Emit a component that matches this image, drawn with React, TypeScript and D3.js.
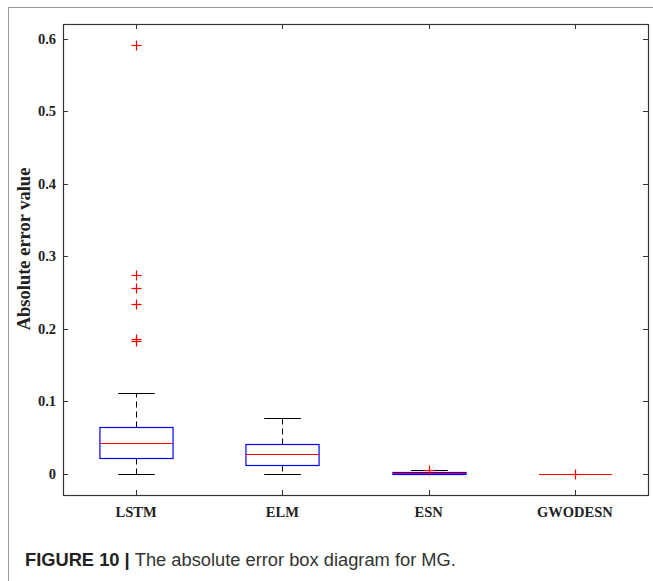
import React from 'react';
import * as d3 from 'd3';

const categories = ['LSTM', 'ELM', 'ESN', 'GWODESN'];
const q1 = [0.0225, 0.0129, 0.0006, 0];
const medians = [0.0423, 0.0271, 0.0017, 0];
const q3 = [0.0643, 0.0418, 0.0029, 0];
const whiskerLow = [0, 0, 0, 0];
const whiskerHigh = [0.1116, 0.0767, 0.0055, 0];
const outliers: number[][] = [
  [0.5905, 0.2737, 0.2557, 0.2342, 0.1864, 0.1836],
  [],
  [0.0058],
  [0],
];
const yTicks = [0, 0.1, 0.2, 0.3, 0.4, 0.5, 0.6];

const W = 653;
const H = 581;
const L = 63, R = 648, T = 24, B = 495;

export default function App() {
  const x = d3.scaleLinear().domain([0.5, 4.5]).range([L, R]);
  const y = d3.scaleLinear().domain([-0.029, 0.62]).range([B, T]);
  const py = (v: number) => Math.round(y(v)) + 0.5;
  const bw = x(1.25) - x(1);
  const cw = x(1.125) - x(1);
  const axisColor = '#333';
  const serif = '"Liberation Serif", "Times New Roman", serif';
  const sans = '"Liberation Sans", Arial, sans-serif';
  const fmt = d3.format('.1f');

  return (
    <svg width={W} height={H} style={{ position: 'absolute', left: 0, top: 0, background: '#fff' }}>
      <rect x={0} y={0} width={W} height={H} fill="#fff" />
      {/* page frame */}
      <line x1={8.5} x2={8.5} y1={7} y2={H} stroke="#999" strokeWidth={1} />
      <line x1={8} x2={W} y1={7.5} y2={7.5} stroke="#999" strokeWidth={1} />

      {/* boxes */}
      {categories.map((c, i) => {
        const cx = Math.round(x(i + 1)) + 0.5;
        const degenerate = q3[i] === q1[i];
        return (
          <g key={c}>
            {!degenerate && (
              <g>
                <line x1={cx} x2={cx} y1={py(q3[i])} y2={py(whiskerHigh[i])} stroke="#000" strokeWidth={1} strokeDasharray="6,4" />
                <line x1={cx} x2={cx} y1={py(q1[i])} y2={py(whiskerLow[i])} stroke="#000" strokeWidth={1} strokeDasharray="6,4" />
                <line x1={cx - cw} x2={cx + cw} y1={py(whiskerHigh[i])} y2={py(whiskerHigh[i])} stroke="#000" strokeWidth={1} />
                <line x1={cx - cw} x2={cx + cw} y1={py(whiskerLow[i])} y2={py(whiskerLow[i])} stroke="#000" strokeWidth={1} />
                <rect x={cx - bw} width={2 * bw} y={py(q3[i])} height={Math.max(1, py(q1[i]) - py(q3[i]))} fill="none" stroke="#0000ff" strokeWidth={1.2} />
              </g>
            )}
            <line x1={cx - bw} x2={cx + bw} y1={py(medians[i])} y2={py(medians[i])} stroke="#ff0000" strokeWidth={1} />
            {outliers[i].map((v, j) => (
              <g key={j} stroke="#ff0000" strokeWidth={1.2}>
                <line x1={cx - 5} x2={cx + 5} y1={py(v)} y2={py(v)} />
                <line x1={cx} x2={cx} y1={py(v) - 5} y2={py(v) + 5} />
              </g>
            ))}
          </g>
        );
      })}

      {/* axes box */}
      <rect x={L + 0.5} y={T + 0.5} width={R - L} height={B - T} fill="none" stroke={axisColor} strokeWidth={1.2} />
      {yTicks.map((t) => (
        <g key={t}>
          <line x1={L} x2={L + 5} y1={py(t)} y2={py(t)} stroke={axisColor} />
          <line x1={R} x2={R - 5} y1={py(t)} y2={py(t)} stroke={axisColor} />
          <text x={L - 7} y={y(t)} dy="0.35em" textAnchor="end" fontFamily={serif} fontWeight="bold" fontSize={14.5} fill="#222">
            {t === 0 ? '0' : fmt(t)}
          </text>
        </g>
      ))}
      {categories.map((c, i) => (
        <g key={c}>
          <line x1={Math.round(x(i + 1)) + 0.5} x2={Math.round(x(i + 1)) + 0.5} y1={B} y2={B - 5} stroke={axisColor} />
          <line x1={Math.round(x(i + 1)) + 0.5} x2={Math.round(x(i + 1)) + 0.5} y1={T} y2={T + 5} stroke={axisColor} />
          <text x={x(i + 1)} y={517} textAnchor="middle" fontFamily={serif} fontWeight="bold" fontSize={14.5} fill="#222">
            {c}
          </text>
        </g>
      ))}
      <text transform={`translate(30,249) rotate(-90)`} textAnchor="middle" fontFamily={serif} fontWeight="bold" fontSize={18.5} fill="#222">
        Absolute error value
      </text>

      {/* caption */}
      <text x={25} y={566} fontFamily={sans} fontSize={18.3} fill="#333">
        <tspan fontWeight="bold" fill="#222">FIGURE 10 | </tspan>
        <tspan>The absolute error box diagram for MG.</tspan>
      </text>
    </svg>
  );
}
